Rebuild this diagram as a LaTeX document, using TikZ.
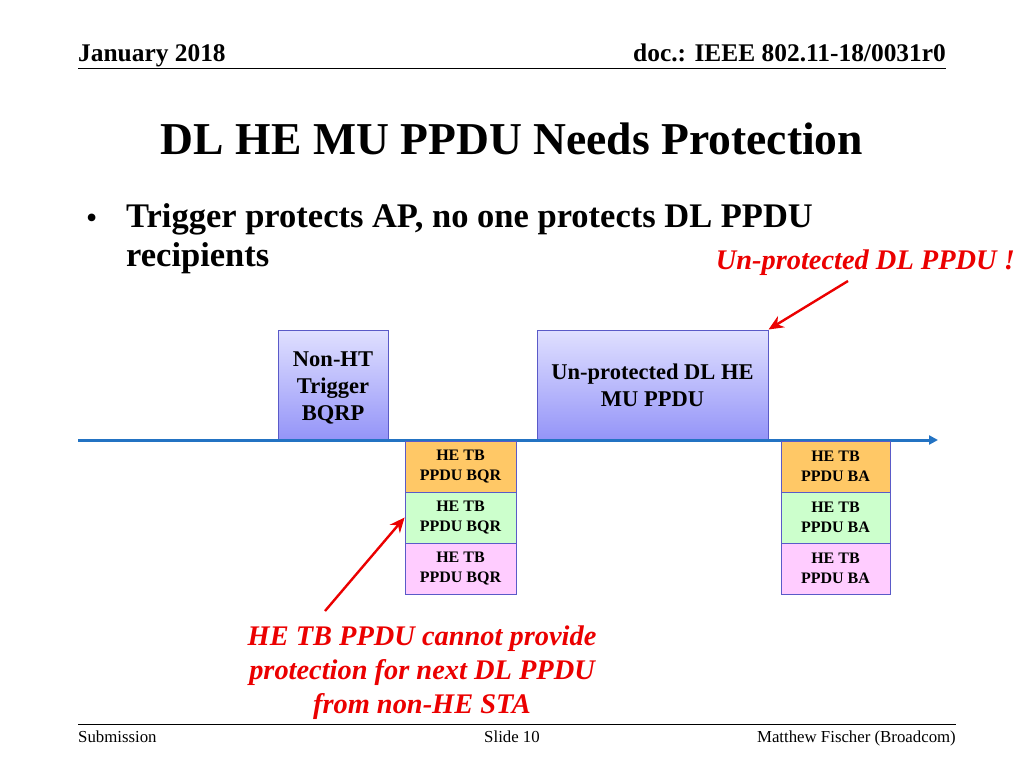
\documentclass[tikz,border=0pt]{standalone}
\usepackage{fontspec}
\setmainfont{Liberation Serif}
\usetikzlibrary{arrows.meta,shadows}
\definecolor{boxtop}{RGB}{224,224,255}
\definecolor{boxbot}{RGB}{148,148,248}
\definecolor{boxedge}{RGB}{90,90,200}
\definecolor{lineblue}{RGB}{35,115,195}
\definecolor{orangebox}{RGB}{255,200,102}
\definecolor{greenbox}{RGB}{204,255,204}
\definecolor{pinkbox}{RGB}{255,204,255}
\definecolor{redtext}{RGB}{235,0,0}
\newcommand{\lowered}[1]{\raisebox{-3pt}[\height][\depth]{\begin{tabular}{@{}c@{}}#1\end{tabular}}}
\tikzset{
  bigbox/.style={draw=boxedge, line width=1pt, top color=boxtop, bottom color=boxbot, align=center, inner sep=0pt, font=\bfseries\fontsize{22.5}{27}\selectfont, drop shadow={shadow xshift=1pt, shadow yshift=-2pt, opacity=0.25}},
  smallbox/.style={draw=boxedge, line width=0.8pt, minimum width=111pt, minimum height=51pt, align=center, inner sep=0pt, font=\bfseries\fontsize{16}{19.5}\selectfont},
  redarrow/.style={draw=redtext, line width=2.4pt, -{Stealth[length=15pt,width=13pt]}},
  redlabel/.style={text=redtext, font=\bfseries\itshape\fontsize{28.4}{34}\selectfont, align=center},
}
\begin{document}
\begin{tikzpicture}[x=1pt,y=-1pt]
\useasboundingbox[fill=white] (0,0) rectangle (1024,768);
% header
\node[anchor=base west, inner sep=0pt, font=\bfseries\fontsize{25.4}{30}\selectfont] (date) at (78,62) {January 2018};
\node[anchor=base east, inner sep=0pt, font=\bfseries\fontsize{25.4}{30}\selectfont] (doc) at (946,62) {doc.: IEEE 802.11-18/0031r0};
\coordinate (hl) at (78,68); \coordinate (hr) at (946,68);
\draw[line width=1pt] (hl) -- (hr);
% title
\node[anchor=base, inner sep=0pt, font=\bfseries\fontsize{45.6}{54}\selectfont] (title) at (512,154) {DL HE MU PPDU Needs Protection};
% bullet
\node[anchor=base west, inner sep=0pt, font=\fontsize{32}{38}\selectfont] (bul) at (86,228) {•};
\node[anchor=base west, inner sep=0pt, font=\bfseries\fontsize{34.5}{40}\selectfont] (b1) at (126,227) {Trigger protects AP, no one protects DL PPDU};
\node[anchor=base west, inner sep=0pt, font=\bfseries\fontsize{34.5}{40}\selectfont] (b2) at (126,266) {recipients};
% red label top
\node[anchor=base east, inner sep=0pt, redlabel] (unp) at (1015,269) {Un-protected DL PPDU !};
% boxes
\node[bigbox, minimum width=110pt, minimum height=110pt] (trig) at (333,385) {\lowered{Non-HT\\Trigger\\BQRP}};
\node[bigbox, minimum width=231pt, minimum height=110pt] (mu) at (652.5,385) {\lowered{Un-protected DL HE\\MU PPDU}};
% timeline
\coordinate (tl) at (78,440); \coordinate (tr) at (938,440);
\draw[lineblue, line width=3pt, -{Triangle[length=9pt,width=9pt]}] (tl) -- (tr);
% stacks
\node[smallbox, fill=orangebox] (q1) at (460.5,466.5) {HE TB\\PPDU BQR};
\node[smallbox, fill=greenbox] (q2) at (460.5,517.5) {HE TB\\PPDU BQR};
\node[smallbox, fill=pinkbox] (q3) at (460.5,568.5) {HE TB\\PPDU BQR};
\node[smallbox, fill=orangebox, minimum width=109pt] (a1) at (835.5,466.5) {HE TB\\PPDU BA};
\node[smallbox, fill=greenbox, minimum width=109pt] (a2) at (835.5,517.5) {HE TB\\PPDU BA};
\node[smallbox, fill=pinkbox, minimum width=109pt] (a3) at (835.5,568.5) {HE TB\\PPDU BA};
% arrows
\coordinate (s1) at (848,281);
\draw[redarrow] (s1) -- (mu.north east);
\coordinate (s2) at (325,611);
\draw[redarrow] (s2) -- (q2.west);
% bottom red label
\node[anchor=north, inner sep=0pt, redlabel] (note) at (422,626) {HE TB PPDU cannot provide\\protection for next DL PPDU\\from non-HE STA};
% footer
\coordinate (fl) at (78,724); \coordinate (fr) at (956,724);
\draw[line width=1pt] (fl) -- (fr);
\node[anchor=base west, inner sep=0pt, font=\fontsize{16.8}{20}\selectfont] (sub) at (78,742) {Submission};
\node[anchor=base, inner sep=0pt, font=\fontsize{16.8}{20}\selectfont] (slide) at (512,742) {Slide 10};
\node[anchor=base east, inner sep=0pt, font=\fontsize{16.8}{20}\selectfont] (auth) at (956,742) {Matthew Fischer (Broadcom)};
\end{tikzpicture}
\end{document}
